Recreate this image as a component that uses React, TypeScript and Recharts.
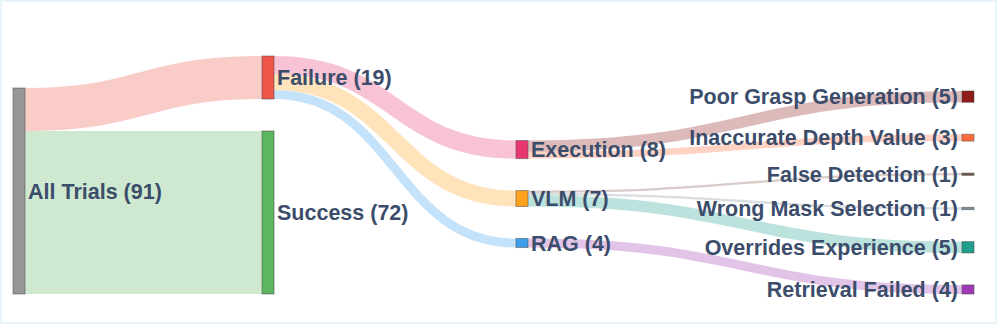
import React from 'react';
import { Sankey } from 'recharts';

// nodes, in the order the links refer to them
const nodeNames = [
  'All Trials', 'Failure', 'Success', 'Execution', 'VLM', 'RAG',
  'Poor Grasp Generation', 'Inaccurate Depth Value', 'False Detection',
  'Wrong Mask Selection', 'Overrides Experience', 'Retrieval Failed',
];
const nodeColors = [
  '#979797', '#f05549', '#5cb660', '#e8376f', '#ffa31f', '#3d9fea',
  '#8f1a1a', '#ff6b3d', '#795548', '#7a8f9a', '#1f9e8c', '#a03ab4',
];

const linkSources = [0, 0, 1, 1, 1, 3, 3, 4, 4, 4, 5];
const linkTargets = [1, 2, 3, 4, 5, 6, 7, 8, 9, 10, 11];
const linkValues = [19, 72, 8, 7, 4, 5, 3, 1, 1, 5, 4];

const data = {
  nodes: nodeNames.map((name) => ({ name })),
  links: linkSources.map((s, i) => ({ source: s, target: linkTargets[i], value: linkValues[i] })),
};

const W = 997;
const H = 324;
const MARGIN = { top: 56, right: 23, bottom: 30, left: 13 };
const NODE_W = 12;
// horizontal place of each column, as a share of the free width
const COLUMN_POS = [0, 0.2624, 0.53, 1];
const MAX_DEPTH = 3;

const span = W - MARGIN.left - MARGIN.right - NODE_W;
const childW = span / MAX_DEPTH;
const colX = (rawX: number) => {
  const d = Math.round((rawX - MARGIN.left) / childW);
  return MARGIN.left + COLUMN_POS[d] * span;
};

const FONT = '"Liberation Sans", Arial, sans-serif';

const SankeyNode = (props: any) => {
  const { x, y, width, height, index, payload } = props;
  const nx = colX(x);
  const last = Math.round((x - MARGIN.left) / childW) === MAX_DEPTH;
  const cy = y + height / 2;
  return (
    <g>
      <rect
        x={nx}
        y={y}
        width={width}
        height={Math.max(height, 1)}
        fill={nodeColors[index]}
        stroke="#444"
        strokeOpacity={0.5}
        strokeWidth={1}
      />
      <text
        x={last ? nx - 4 : nx + width + 3}
        y={cy}
        dy="0.36em"
        textAnchor={last ? 'end' : 'start'}
        fontFamily={FONT}
        fontWeight="bold"
        fontSize={21.5}
        fill="#3c4d6b"
      >
        {`${payload.name} (${payload.value})`}
      </text>
    </g>
  );
};

const SankeyLink = (props: any) => {
  const { sourceX, targetX, sourceY, targetY, linkWidth, payload } = props;
  const sx = colX(sourceX - NODE_W) + NODE_W;
  const tx = colX(targetX);
  const c0 = sx + (tx - sx) * 0.5;
  const c1 = tx - (tx - sx) * 0.5;
  const targetIndex = nodeNames.indexOf(payload.target?.name);
  return (
    <path
      d={`M${sx},${sourceY} C${c0},${sourceY} ${c1},${targetY} ${tx},${targetY}`}
      fill="none"
      stroke={nodeColors[targetIndex]}
      strokeOpacity={0.3}
      strokeWidth={Math.max(linkWidth, 1)}
    />
  );
};

export default function App() {
  return (
    <div style={{ position: 'absolute', left: 0, top: 0, width: W, height: H, background: '#e8f5fb' }}>
      <div style={{ position: 'absolute', left: 2, top: 2, width: 993, height: 320, background: '#fff' }} />
      <div style={{ position: 'absolute', left: 0, top: 0 }}>
        <Sankey
          width={W}
          height={H}
          data={data}
          margin={MARGIN}
          nodeWidth={NODE_W}
          nodePadding={32}
          align="left"
          sort={false}
          iterations={32}
          node={<SankeyNode />}
          link={<SankeyLink />}
        />
      </div>
    </div>
  );
}
